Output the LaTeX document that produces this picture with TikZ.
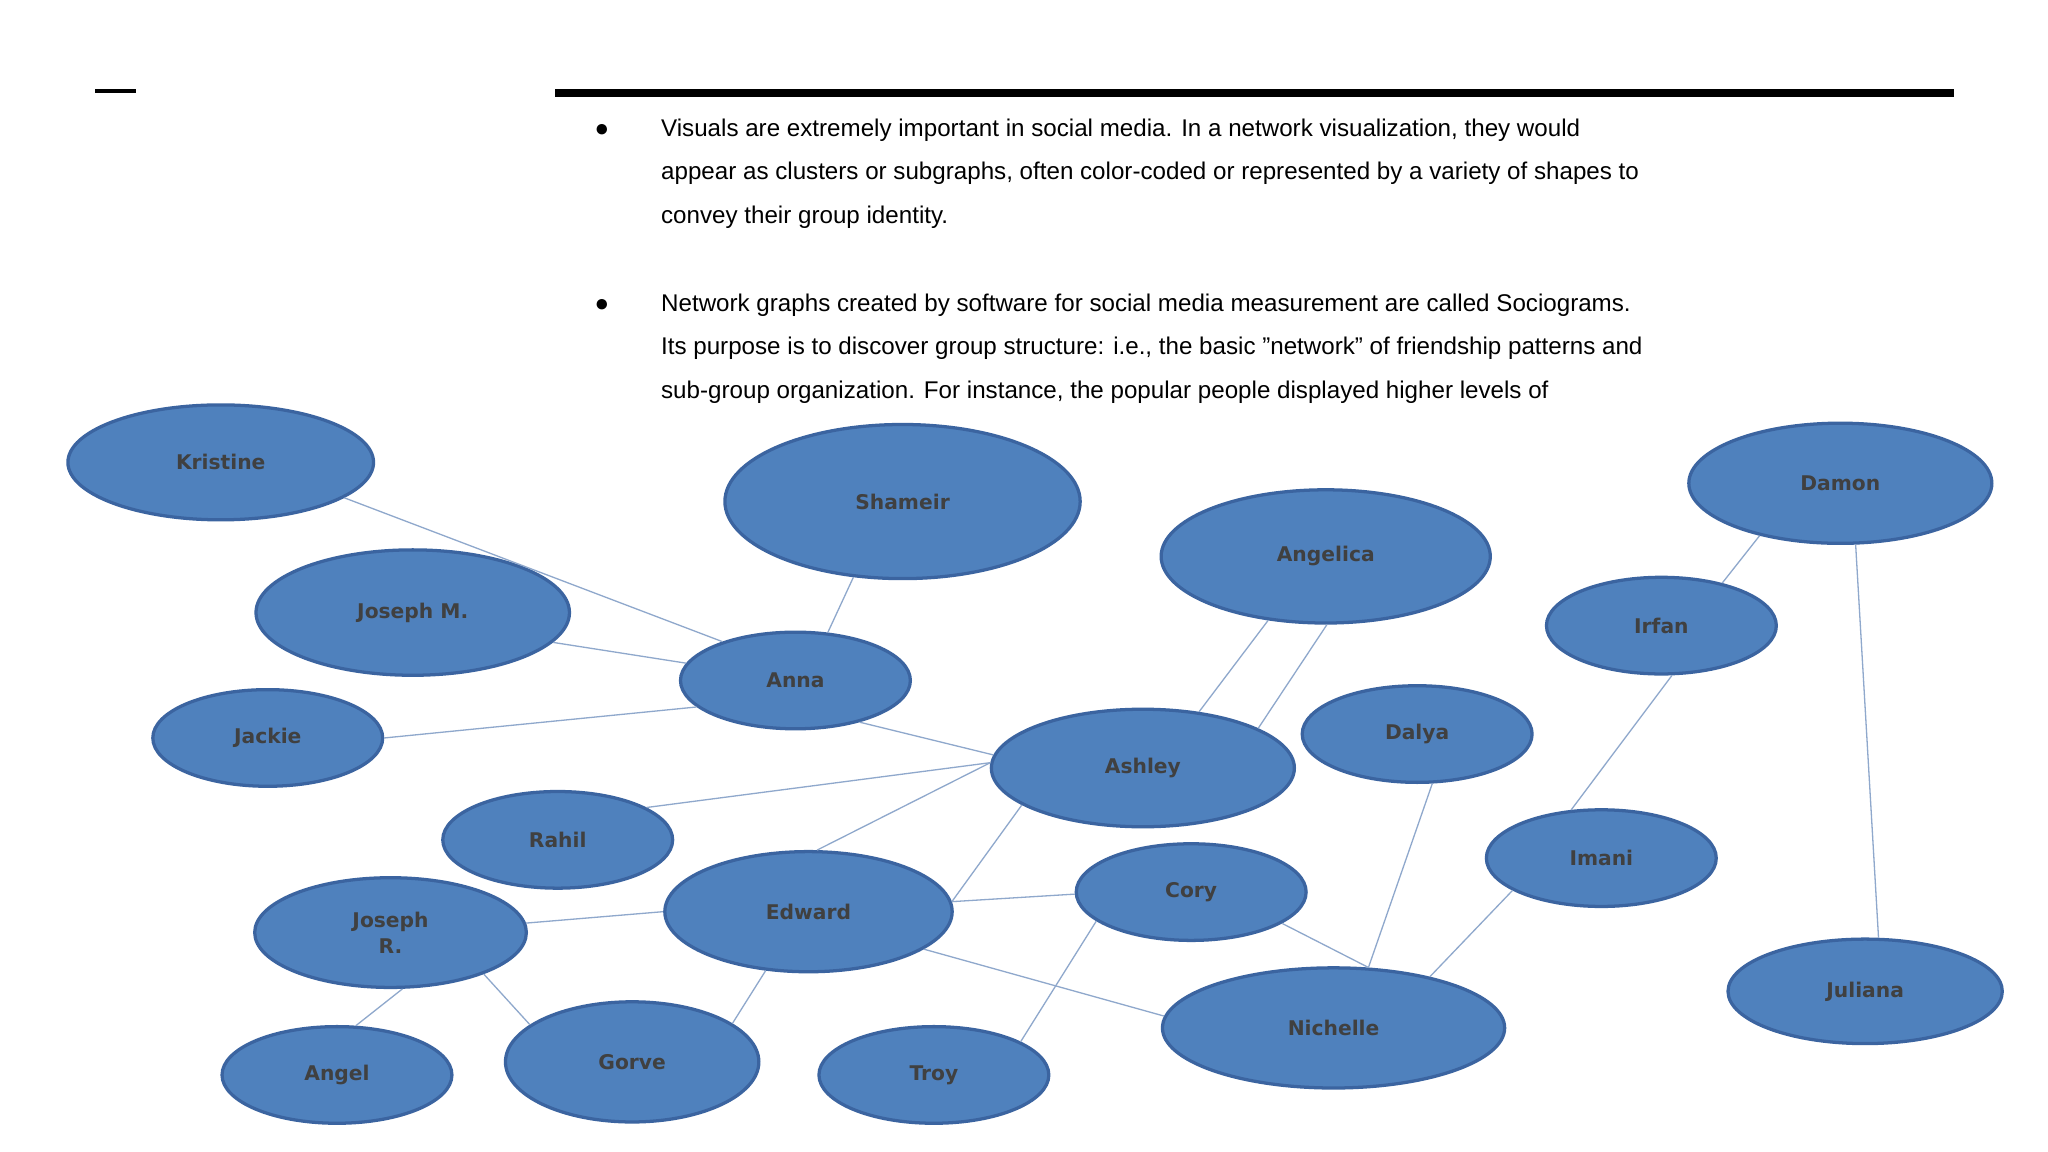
\documentclass[tikz,border=0pt]{standalone}
\usepackage{fontspec}
\setmainfont{Liberation Sans}
\newfontfamily\nodefont{DejaVu Sans}
\usetikzlibrary{shapes.geometric}
\begin{document}
\begin{tikzpicture}[x=1pt,y=-1pt,
  person/.style={ellipse,fill=nodeblue,draw=nodeborder,line width=2.5pt,inner sep=0pt,font=\nodefont\bfseries\fontsize{15.5}{20}\selectfont,text=black!75},
  link/.style={draw=linkblue,line width=1pt},
  txt/.style={anchor=west,font=\fontsize{18.5}{22}\selectfont,inner sep=0pt}]
\definecolor{nodeblue}{HTML}{4F81BD}
\definecolor{nodeborder}{HTML}{3B64A0}
\definecolor{linkblue}{HTML}{8FA8CC}
\useasboundingbox (0,0) rectangle (1568,882);
\fill[white] (0,0) rectangle (1568,882);
\draw[line width=3pt] (73,70) -- (104,70);
\draw[line width=6pt] (425,71) -- (1496,71);
\node[txt] (b1) at (455,100) {●};
\node[txt] (l1) at (506,100) {Visuals are extremely important in social media. In a network visualization, they would};
\node[txt] (l2) at (506,133) {appear as clusters or subgraphs, often color-coded or represented by a variety of shapes to};
\node[txt] (l3) at (506,166) {convey their group identity.};
\node[txt] (b2) at (455,234) {●};
\node[txt] (l4) at (506,234) {Network graphs created by software for social media measurement are called Sociograms.};
\node[txt] (l5) at (506,267) {Its purpose is to discover group structure: i.e., the basic "network" of friendship patterns and};
\begin{scope}
\clip (400,285) rectangle (1568,309);
\node[txt] (l6) at (506,300) {sub-group organization. For instance, the popular people displayed higher levels of};
\end{scope}
\def\P#1#2#3#4#5#6{\node[person,minimum width=#4*2pt,minimum height=#5*2pt] (#1) at (#2,#3) {#6};}
\P{kristine}{169}{354}{117}{44}{Kristine}
\P{shameir}{691}{384}{136}{59}{Shameir}
\P{angelica}{1015}{426}{126}{51}{Angelica}
\P{damon}{1409}{370}{116}{46}{Damon}
\P{josephm}{316}{469}{120}{48}{Joseph M.}
\P{irfan}{1272}{479}{88}{37}{Irfan}
\P{anna}{609}{521}{88}{37}{Anna}
\P{jackie}{205}{565}{88}{37}{Jackie}
\P{ashley}{875}{588}{116}{45}{Ashley}
\P{dalya}{1085}{562}{88}{37}{Dalya}
\P{rahil}{427}{643}{88}{37}{Rahil}
\P{imani}{1226}{657}{88}{37}{Imani}
\P{josephr}{299}{714}{104}{42}{\shortstack{Joseph\\[2pt]R.}}
\P{edward}{619}{698}{110}{46}{Edward}
\P{cory}{912}{683}{88}{37}{Cory}
\P{juliana}{1428}{759}{105}{40}{Juliana}
\P{nichelle}{1021}{787}{131}{46}{Nichelle}
\P{angel}{258}{823}{88}{37}{Angel}
\P{gorve}{484}{813}{97}{46}{Gorve}
\P{troy}{715}{823}{88}{37}{Troy}
\path[link] (kristine.344) -- (anna.152);
\path[link] (shameir.237) -- (anna.56);
\path[link] (josephm.348) -- (anna.171);
\path[link] (jackie.0) -- (anna.195);
\path[link] (anna.327) -- (ashley.175);
\path[link] (angelica.228) -- (ashley.45);
\path[link] (angelica.271) -- (ashley.19);
\path[link] (rahil.20) -- (ashley.178);
\path[link] (edward.82) -- (ashley.178);
\path[link] (edward.4) -- (ashley.197);
\path[link] (edward.4) -- (cory.181);
\path[link] (josephr.4) -- (edward.180);
\path[link] (edward.234) -- (gorve.21);
\path[link] (edward.342) -- (nichelle.176);
\path[link] (cory.341) -- (nichelle.60);
\path[link] (cory.197) -- (troy.21);
\path[link] (dalya.287) -- (nichelle.60);
\path[link] (imani.200) -- (nichelle.28);
\path[link] (irfan.282) -- (imani.122);
\path[link] (damon.213) -- (irfan.35);
\path[link] (damon.284) -- (juliana.76);
\path[link] (josephr.282) -- (angel.69);
\path[link] (josephr.336) -- (gorve.160);
\end{tikzpicture}
\end{document}
